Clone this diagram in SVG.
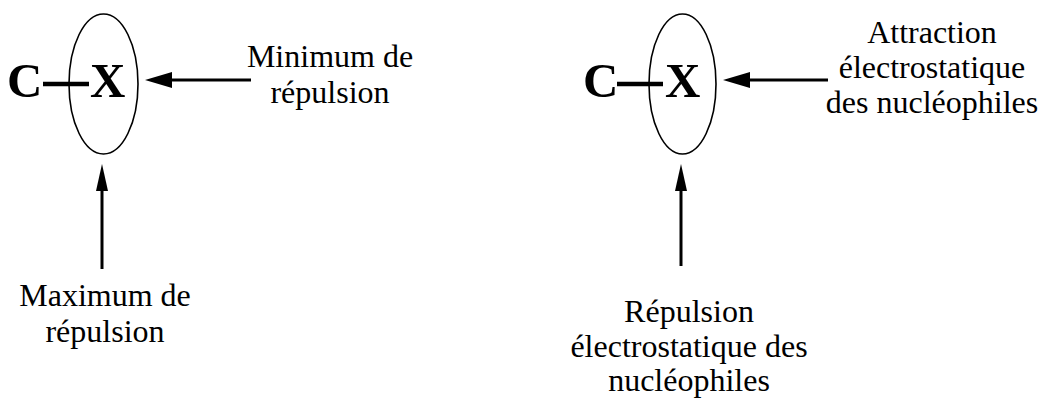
<svg xmlns="http://www.w3.org/2000/svg" width="1040" height="401" viewBox="0 0 1040 401">
<style>
.atom{font-family:"Liberation Serif","Times New Roman",serif;font-weight:bold;font-size:49px;fill:#000}
.lbl{font-family:"Liberation Serif","Times New Roman",serif;font-size:32px;fill:#000;text-anchor:middle}
.orb{fill:none;stroke:#000;stroke-width:1.6}
.bond{stroke:#000;stroke-width:4.5}
.line{stroke:#000;stroke-width:3}
.head{fill:#000}
</style>
<rect width="1040" height="401" fill="#fff"/>
<g id="molecule-left">
<ellipse class="orb" cx="103.5" cy="84" rx="34.5" ry="70"/>
<line class="bond" x1="43" y1="84" x2="89" y2="84"/>
<text class="atom" x="7" y="97">C</text>
<text class="atom" x="90" y="97">X</text>
</g>
<g id="molecule-right">
<ellipse class="orb" cx="682.5" cy="84" rx="33.5" ry="70"/>
<line class="bond" x1="617" y1="84" x2="663" y2="84"/>
<text class="atom" x="583" y="97">C</text>
<text class="atom" x="665" y="97">X</text>
</g>
<g id="label-min">
<text class="lbl" x="330" y="67">Minimum de</text>
<text class="lbl" x="330" y="103">répulsion</text>
</g>
<g id="label-max">
<text class="lbl" x="105" y="306">Maximum de</text>
<text class="lbl" x="105" y="342">répulsion</text>
</g>
<g id="label-attraction">
<text class="lbl" x="932" y="43">Attraction</text>
<text class="lbl" x="932" y="78">électrostatique</text>
<text class="lbl" x="932" y="113">des nucléophiles</text>
</g>
<g id="label-repulsion">
<text class="lbl" x="689" y="322">Répulsion</text>
<text class="lbl" x="689" y="357">électrostatique des</text>
<text class="lbl" x="689" y="391">nucléophiles</text>
</g>
<g id="connectors">
<line class="line" x1="170" y1="80" x2="251" y2="80"/>
<polygon class="head" points="145,80 172,72 172,88"/>
<line class="line" x1="102" y1="189" x2="102" y2="269"/>
<polygon class="head" points="102,164 96,191 108,191"/>
<line class="line" x1="748" y1="80" x2="828" y2="80"/>
<polygon class="head" points="723,80 750,72 750,88"/>
<line class="line" x1="681" y1="189" x2="681" y2="266"/>
<polygon class="head" points="681,164 675,191 687,191"/>
</g>
</svg>
